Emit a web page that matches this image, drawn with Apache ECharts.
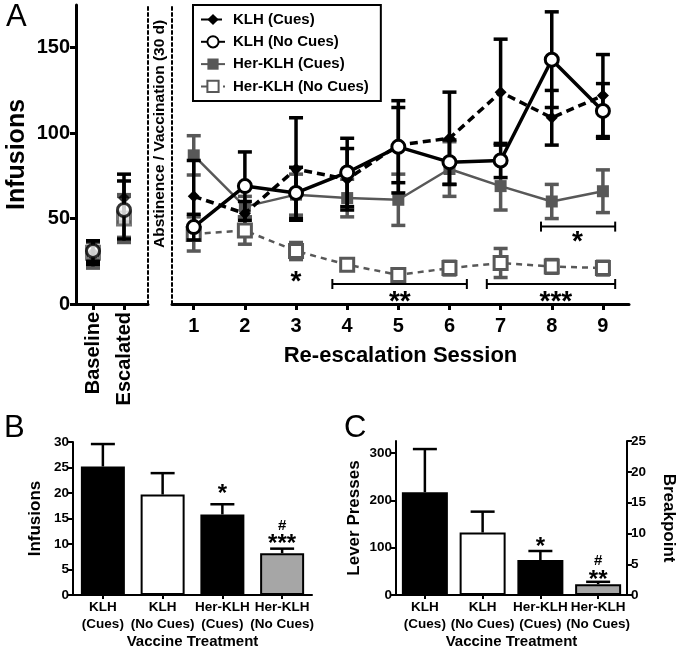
<!DOCTYPE html>
<html><head><meta charset="utf-8">
<script src="https://cdn.jsdelivr.net/npm/echarts@6/dist/echarts.min.js"></script>
<style>html,body{margin:0;padding:0;background:#fff}#c{width:679px;height:650px}</style>
</head><body><div id="c"></div>
<script>
// ---------- Panel A data ----------
const preLabels = ['Baseline', 'Escalated'];
const prePos = [1, 2];
const sessions = [1, 2, 3, 4, 5, 6, 7, 8, 9];
const seriesNames = ['KLH (Cues)', 'KLH (No Cues)', 'Her-KLH (Cues)', 'Her-KLH (No Cues)'];

const klhCues      = [63, 53, 79, 73, 93, 97, 124, 109, 122];
const klhCuesErr   = [21, 7, 30, 18, 22, 27, 31, 16, 24];
const klhNoCues    = [45, 69, 65, 77, 92, 83, 84, 143, 113];
const klhNoCuesErr = [7.5, 20, 15, 20, 27, 13, 10, 28, 16];
const herCues      = [87, 57, 64, 62, 61, 79, 69, 60, 66];
const herCuesErr   = [11.5, 6, 12, 11, 15, 16, 14, 10, 12.5];
const herNoCues    = [41, 43, 31, 23, 17, 21, 24, 22, 21];
const herNoCuesErr = [10, 8, 5, 3, 2, 4, 8.5, 4, 4];

const klhCuesPre      = [30, 62];
const klhCuesPreErr   = [7, 14];
const klhNoCuesPre    = [31, 55];
const klhNoCuesPreErr = [6, 17];
const herCuesPre      = [29, 51];
const herCuesPreErr   = [8, 12];
const herNoCuesPre    = [30, 50];
const herNoCuesPreErr = [6, 14];

const yTicksA = [0, 50, 100, 150];

// significance brackets (x1, x2, y) and star labels in panel A
const bracketX1 = [3.71, 6.73, 7.79];
const bracketX2 = [6.34, 9.24, 9.24];
const bracketY  = [11.7, 11.7, 45.3];
const starAX    = [3.0, 5.03, 8.08, 8.5];
const starAY    = [13, 1, 1, 36];
const starAText = ['*', '**', '***', '*'];

// ---------- Panel B / C data ----------
const groups = ['KLH\n(Cues)', 'KLH\n(No Cues)', 'Her-KLH\n(Cues)', 'Her-KLH\n(No Cues)'];
const infusionsB    = [25.2, 19.7, 15.8, 8.2];
const infusionsBErr = [4.4, 4.2, 2.0, 0.9];
const pressesC      = [217, 132, 74, 23];
const pressesCErr   = [91, 44, 19, 5];
const yTicksB = [0, 5, 10, 15, 20, 25, 30];
const yTicksC = [0, 100, 200, 300];
const yTicksC2 = [0, 5, 10, 15, 20, 25];
const starBX = [2, 3, 3];
const starBY = [19.7, 13.6, 9.9];
const starBText = ['*', '#', '***'];
const starCX = [2, 3, 3];
const starCY = [100, 73, 31];
const starCText = ['*', '#', '**'];

const FONT = '"Liberation Sans", Arial, Helvetica, sans-serif';
const BLACK = '#000';
const GRAY = '#585858';
const barColors = ['#000', '#fff', '#000', '#a6a6a6'];

function errRender(color, lw, capW, twoSided) {
  return function (params, api) {
    const x = api.value(0), lo = api.value(1), hi = api.value(2);
    const a = api.coord([x, lo]), b = api.coord([x, hi]);
    const st = { stroke: color, lineWidth: lw };
    const ch = [
      { type: 'line', shape: { x1: a[0], y1: a[1], x2: b[0], y2: b[1] }, style: st },
      { type: 'line', shape: { x1: b[0] - capW / 2, y1: b[1], x2: b[0] + capW / 2, y2: b[1] }, style: st }
    ];
    if (twoSided) ch.push({ type: 'line', shape: { x1: a[0] - capW / 2, y1: a[1], x2: a[0] + capW / 2, y2: a[1] }, style: st });
    return { type: 'group', children: ch };
  };
}
function textRender(texts, size) {
  return function (params, api) {
    const p = api.coord([api.value(0), api.value(1)]);
    return { type: 'text', x: p[0], y: p[1],
      style: { text: texts[params.dataIndex], font: 'bold ' + size + 'px ' + FONT, fill: '#000', align: 'center', verticalAlign: 'middle' } };
  };
}
function errData(xs, v, e, two) {
  return xs.map((x, i) => [x, two ? v[i] - e[i] : v[i], v[i] + e[i]]);
}

const styles = [
  { symbol: 'diamond', size: 12, item: { color: BLACK }, line: { color: BLACK, width: 3.5, type: [8, 5] }, err: BLACK, z: 6 },
  { symbol: 'circle', size: 13, item: { color: '#fff', borderColor: BLACK, borderWidth: 3 }, line: { color: BLACK, width: 3.5 }, err: BLACK, z: 7 },
  { symbol: 'rect', size: 12, item: { color: GRAY }, line: { color: GRAY, width: 2.5 }, err: GRAY, z: 4 },
  { symbol: 'rect', size: 13, item: { color: '#fff', borderColor: GRAY, borderWidth: 3 }, line: { color: GRAY, width: 2.5, type: [6, 5] }, err: GRAY, z: 5 }
];
const mainVals = [klhCues, klhNoCues, herCues, herNoCues];
const mainErrs = [klhCuesErr, klhNoCuesErr, herCuesErr, herNoCuesErr];
const preVals = [klhCuesPre, klhNoCuesPre, herCuesPre, herNoCuesPre];
const preErrs = [klhCuesPreErr, klhNoCuesPreErr, herCuesPreErr, herNoCuesPreErr];

const series = [];
seriesNames.forEach((n, k) => {
  const s = styles[k];
  series.push({ name: n, type: 'line', xAxisIndex: 1, yAxisIndex: 2,
    data: sessions.map((x, i) => [x, mainVals[k][i]]),
    symbol: s.symbol, symbolSize: s.size, itemStyle: s.item, lineStyle: s.line, z: s.z });
});
seriesNames.forEach((n, k) => {
  const s = styles[k];
  series.push({ name: n, type: 'scatter', xAxisIndex: 0, yAxisIndex: 0,
    data: prePos.map((x, i) => [x, preVals[k][i]]),
    symbol: s.symbol, symbolSize: s.size, itemStyle: s.item, z: s.z });
  series.push({ type: 'custom', xAxisIndex: 1, yAxisIndex: 2, renderItem: errRender(s.err, 3.5, 14, true),
    data: errData(sessions, mainVals[k], mainErrs[k], true), z: s.z - 1, silent: true });
  series.push({ type: 'custom', xAxisIndex: 0, yAxisIndex: 0, renderItem: errRender(s.err, 3.5, 14, true),
    data: errData(prePos, preVals[k], preErrs[k], true), z: s.z - 1, silent: true });
});
// brackets
series.push({ type: 'custom', xAxisIndex: 1, yAxisIndex: 2, silent: true, encode: { x: [0, 1], y: 2 },
  data: bracketX1.map((x, i) => [x, bracketX2[i], bracketY[i]]),
  renderItem: function (params, api) {
    const a = api.coord([api.value(0), api.value(2)]), b = api.coord([api.value(1), api.value(2)]);
    const st = { stroke: '#000', lineWidth: 2 };
    return { type: 'group', children: [
      { type: 'line', shape: { x1: a[0], y1: a[1], x2: b[0], y2: b[1] }, style: st },
      { type: 'line', shape: { x1: a[0], y1: a[1] - 5, x2: a[0], y2: a[1] + 5 }, style: st },
      { type: 'line', shape: { x1: b[0], y1: b[1] - 5, x2: b[0], y2: b[1] + 5 }, style: st }
    ] };
  } });
series.push({ type: 'custom', xAxisIndex: 1, yAxisIndex: 2, silent: true,
  data: starAX.map((x, i) => [x, starAY[i]]), renderItem: textRender(starAText, 28) });

// Panel B
series.push({ type: 'bar', xAxisIndex: 2, yAxisIndex: 3, barWidth: 44,
  data: infusionsB.map((v, i) => ({ value: v, itemStyle: { color: barColors[i] } })),
  itemStyle: { borderColor: '#000', borderWidth: 2 }, z: 3 });
series.push({ type: 'custom', xAxisIndex: 2, yAxisIndex: 3, silent: true, z: 2,
  data: errData([0, 1, 2, 3], infusionsB, infusionsBErr, false), renderItem: errRender('#000', 2.5, 24, false) });
series.push({ type: 'custom', xAxisIndex: 2, yAxisIndex: 3, silent: true,
  data: starBX.map((x, i) => [x, starBY[i]]), renderItem: function (p, api) {
    return textRender(starBText, starBText[p.dataIndex] === '#' ? 15 : 24)(p, api); } });

// Panel C
series.push({ type: 'bar', xAxisIndex: 3, yAxisIndex: 4, barWidth: 46,
  data: pressesC.map((v, i) => ({ value: v, itemStyle: { color: barColors[i] } })),
  itemStyle: { borderColor: '#000', borderWidth: 2 }, z: 3 });
series.push({ type: 'custom', xAxisIndex: 3, yAxisIndex: 4, silent: true, z: 2,
  data: errData([0, 1, 2, 3], pressesC, pressesCErr, false), renderItem: errRender('#000', 2.5, 24, false) });
series.push({ type: 'custom', xAxisIndex: 3, yAxisIndex: 4, silent: true,
  data: starCX.map((x, i) => [x, starCY[i]]), renderItem: function (p, api) {
    return textRender(starCText, starCText[p.dataIndex] === '#' ? 15 : 24)(p, api); } });

const axLine = (w) => ({ show: true, lineStyle: { color: '#000', width: w } });
const dotted = { show: true, lineStyle: { color: '#000', width: 2, type: [3, 3] } };
const lblA = { color: '#000', fontFamily: FONT, fontWeight: 'bold', fontSize: 20 };
const lblB = { color: '#000', fontFamily: FONT, fontWeight: 'bold', fontSize: 13.5 };

const option = {
  animation: false,
  backgroundColor: '#fff',
  textStyle: { fontFamily: FONT },
  legend: {
    data: seriesNames, left: 193, top: 5, orient: 'vertical',
    borderColor: '#000', borderWidth: 2, padding: [7, 12, 7, 7],
    itemWidth: 24, itemHeight: 14, itemGap: 7.3,
    textStyle: { fontFamily: FONT, fontWeight: 'bold', fontSize: 15, color: '#000', padding: [0, 0, 0, 3] }
  },
  grid: [
    { left: 76, top: 5, width: 72, height: 299 },
    { left: 172, top: 5, width: 457, height: 299 },
    { left: 73, top: 442, width: 239, height: 156 },
    { left: 396, top: 441, width: 231, height: 157 }
  ],
  xAxis: [
    { gridIndex: 0, type: 'value', min: 0.452, max: 2.774, axisLine: axLine(3),
      axisTick: { show: true, length: 6, lineStyle: { width: 3 }, customValues: prePos },
      axisLabel: { ...lblA, rotate: 90, margin: 8, customValues: prePos, formatter: v => preLabels[prePos.indexOf(v)] || '' },
      splitLine: { show: false } },
    { gridIndex: 1, type: 'value', min: 0.575, max: 9.51, axisLine: axLine(3),
      axisTick: { show: true, length: 6, lineStyle: { width: 3 }, customValues: sessions },
      axisLabel: { ...lblA, margin: 12, customValues: sessions },
      splitLine: { show: false },
      name: 'Re-escalation Session', nameLocation: 'middle', nameGap: 41,
      nameTextStyle: { fontFamily: FONT, fontWeight: 'bold', fontSize: 22, color: '#000' } },
    { gridIndex: 2, type: 'category', data: groups, axisLine: axLine(2),
      axisTick: { show: true, alignWithLabel: true, length: 4, lineStyle: { width: 2 } },
      axisLabel: { ...lblB, lineHeight: 17, margin: 4, interval: 0 },
      name: 'Vaccine Treatment', nameLocation: 'middle', nameGap: 35,
      nameTextStyle: { fontFamily: FONT, fontWeight: 'bold', fontSize: 15, color: '#000' } },
    { gridIndex: 3, type: 'category', data: groups, axisLine: axLine(2),
      axisTick: { show: true, alignWithLabel: true, length: 4, lineStyle: { width: 2 } },
      axisLabel: { ...lblB, lineHeight: 17, margin: 4, interval: 0 },
      name: 'Vaccine Treatment', nameLocation: 'middle', nameGap: 35,
      nameTextStyle: { fontFamily: FONT, fontWeight: 'bold', fontSize: 15, color: '#000' } }
  ],
  yAxis: [
    { gridIndex: 0, type: 'value', min: 0, max: 175, axisLine: axLine(3),
      axisTick: { show: true, length: 6, lineStyle: { width: 3 }, customValues: yTicksA },
      axisLabel: { ...lblA, margin: 6, customValues: yTicksA }, splitLine: { show: false },
      name: 'Infusions', nameLocation: 'middle', nameGap: 46,
      nameTextStyle: { fontFamily: FONT, fontWeight: 'bold', fontSize: 25, color: '#000' } },
    { gridIndex: 0, type: 'value', position: 'right', min: 0, max: 175, axisLine: dotted,
      axisTick: { show: false }, axisLabel: { show: false }, splitLine: { show: false } },
    { gridIndex: 1, type: 'value', position: 'left', min: 0, max: 175, axisLine: dotted,
      axisTick: { show: false }, axisLabel: { show: false }, splitLine: { show: false } },
    { gridIndex: 2, type: 'value', min: 0, max: 30, axisLine: axLine(2),
      axisTick: { show: true, length: 5, lineStyle: { width: 2 }, customValues: yTicksB },
      axisLabel: { ...lblB, margin: 4, customValues: yTicksB }, splitLine: { show: false },
      name: 'Infusions', nameLocation: 'middle', nameGap: 29,
      nameTextStyle: { fontFamily: FONT, fontWeight: 'bold', fontSize: 17, color: '#000' } },
    { gridIndex: 3, type: 'value', min: 0, max: 325, axisLine: axLine(2),
      axisTick: { show: true, length: 5, lineStyle: { width: 2 }, customValues: yTicksC },
      axisLabel: { ...lblB, margin: 4, customValues: yTicksC }, splitLine: { show: false },
      name: 'Lever Presses', nameLocation: 'middle', nameGap: 33,
      nameTextStyle: { fontFamily: FONT, fontWeight: 'bold', fontSize: 17, color: '#000' } },
    { gridIndex: 3, type: 'value', position: 'right', min: 0, max: 25, axisLine: axLine(2),
      axisTick: { show: true, length: 5, lineStyle: { width: 2 }, customValues: yTicksC2 },
      axisLabel: { ...lblB, margin: 4, customValues: yTicksC2 }, splitLine: { show: false },
      name: 'Breakpoint', nameLocation: 'middle', nameGap: 33, nameRotate: -90,
      nameTextStyle: { fontFamily: FONT, fontWeight: 'bold', fontSize: 17, color: '#000' } }
  ],
  graphic: [
    { type: 'text', left: 6, top: 2, style: { text: 'A', font: '31px ' + FONT, fill: '#000' } },
    { type: 'text', left: 4, top: 413, style: { text: 'B', font: '31px ' + FONT, fill: '#000' } },
    { type: 'text', left: 344, top: 413, style: { text: 'C', font: '31px ' + FONT, fill: '#000' } },
    { type: 'text', x: 160, y: 248, rotation: Math.PI / 2,
      style: { text: 'Abstinence / Vaccination (30 d)', font: 'bold 15.5px ' + FONT, fill: '#000', align: 'left', verticalAlign: 'middle' } }
  ],
  series: series
};
const chart = echarts.init(document.getElementById('c'), null, { renderer: 'canvas' });
chart.setOption(option);
</script></body></html>
